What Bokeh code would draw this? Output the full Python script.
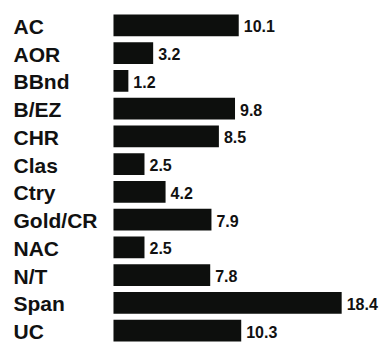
from bokeh.plotting import figure
from bokeh.models import ColumnDataSource, Range1d, FactorRange
from bokeh.core.properties import value
from bokeh.embed import file_html
from bokeh.resources import INLINE

categories = ["AC", "AOR", "BBnd", "B/EZ", "CHR", "Clas", "Ctry", "Gold/CR", "NAC", "N/T", "Span", "UC"]
values = [10.1, 3.2, 1.2, 9.8, 8.5, 2.5, 4.2, 7.9, 2.5, 7.8, 18.4, 10.3]
value_labels = ["10.1", "3.2", "1.2", "9.8", "8.5", "2.5", "4.2", "7.9", "2.5", "7.8", "18.4", "10.3"]

src = ColumnDataSource(dict(cat=categories, val=values, lab=value_labels,
                            zero=[0] * len(values)))

x_start = -9.11
x_end = 21.45

p = figure(width=379, height=348, output_backend="svg", toolbar_location=None,
           y_range=FactorRange(factors=list(reversed(categories)), range_padding=0),
           x_range=Range1d(x_start, x_end), min_border=0, min_border_top=11,
           min_border_left=0, min_border_right=0, min_border_bottom=4)
p.axis.visible = False
p.grid.visible = False
p.outline_line_color = None
p.background_fill_color = "white"
p.border_fill_color = "white"

p.hbar(y="cat", left="zero", right="val", height=0.79, source=src,
       fill_color="#0d0f0d", line_color=None)

p.text(x="val", y="cat", text="lab", source=src, x_offset=5, y_offset=1,
       text_font=value("Liberation Sans"), text_font_style="bold",
       text_font_size="16px", text_color="#111111",
       text_baseline="middle", text_align="left")

p.text(x=x_start, y="cat", text="cat", source=src, x_offset=13, y_offset=1,
       text_font=value("Liberation Sans"), text_font_style="bold",
       text_font_size="21px", text_color="#111111",
       text_baseline="middle", text_align="left")

open("out.html", "w").write(file_html(p, INLINE))
